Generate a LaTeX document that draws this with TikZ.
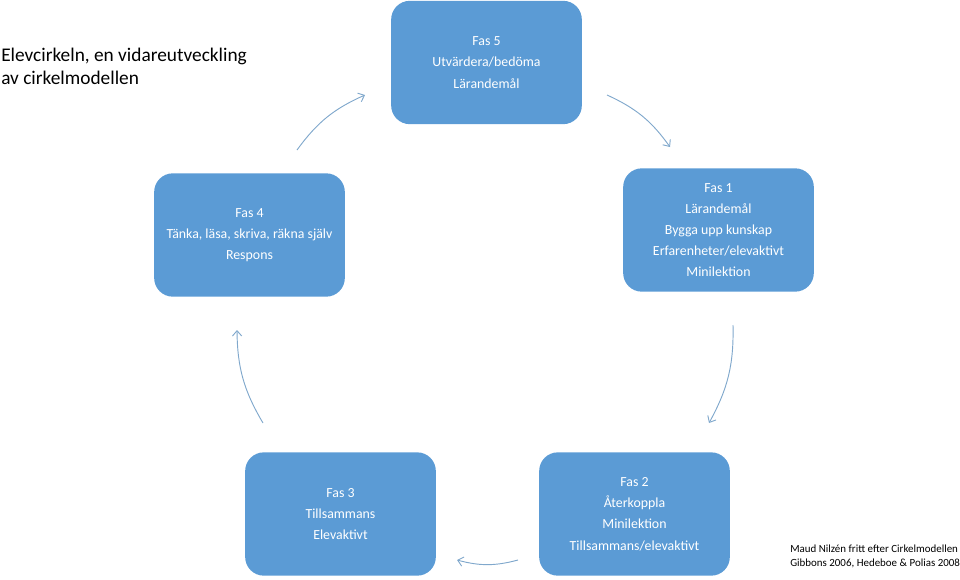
\documentclass[tikz,border=0pt]{standalone}
\usepackage{fontspec}
\setmainfont{Carlito}
\usetikzlibrary{arrows.meta}

\definecolor{fasblue}{RGB}{91,155,213}
\definecolor{pilblue}{RGB}{128,168,204}

\begin{document}
\begin{tikzpicture}[%
    x=0.75pt, y=-0.75pt,
    fas/.style={%
        draw=none,
        fill=fasblue,
        rounded corners=14pt,
        minimum width=143pt,
        minimum height=92.5pt,
        text=white,
        align=center,
        font=\fontsize{10.4}{15.9}\selectfont
    },
    pil/.style={%
        draw=pilblue,
        line width=0.7pt,
        ->,
        bend left=15
    },
    >={Straight Barb[length=4pt,width=7pt]}
]
\useasboundingbox (0,0) rectangle (960,579);

% Title
    \node[anchor=north west, inner sep=0pt, align=left,
          font=\fontsize{14.5}{17.25}\selectfont] (title) at (1,48)
          {Elevcirkeln, en vidareutveckling\\av cirkelmodellen};

% Phases
    \node[fas] (fas5) at (486.5,62.5) {Fas 5\\Utvärdera/bedöma\\Lärandemål};
    \node[fas] (fas1) at (718.5,230) {Fas 1\\Lärandemål\\Bygga upp kunskap\\Erfarenheter/elevaktivt\\Minilektion};
    \node[fas] (fas2) at (634.5,514) {Fas 2\\Återkoppla\\Minilektion\\Tillsammans/elevaktivt};
    \node[fas] (fas3) at (340.5,514) {Fas 3\\Tillsammans\\Elevaktivt};
    \node[fas] (fas4) at (249.5,235) {Fas 4\\Tänka, läsa, skriva, räkna själv\\Respons};

% Source
    \node[anchor=north west, inner sep=0pt, align=left,
          font=\fontsize{8.2}{10.5}\selectfont] (source) at (790,545)
          {Maud Nilzén fritt efter Cirkelmodellen\\Gibbons 2006, Hedeboe \& Polias 2008};

% Arrow ends
    \coordinate (p45a) at (297,150);
    \coordinate (p45b) at (365,95);
    \coordinate (p51a) at (607,95);
    \coordinate (p51b) at (670,147);
    \coordinate (p12a) at (733,325);
    \coordinate (p12b) at (709,423);
    \coordinate (p23a) at (518,560);
    \coordinate (p23b) at (457,560);
    \coordinate (p34a) at (263,423);
    \coordinate (p34b) at (237,330);

% Arrows
\draw[pil] (p45a) to (p45b);
\draw[pil] (p51a) to (p51b);
\draw[pil] (p12a) to (p12b);
\draw[pil] (p23a) to (p23b);
\draw[pil] (p34a) to (p34b);

\end{tikzpicture}
\end{document}
